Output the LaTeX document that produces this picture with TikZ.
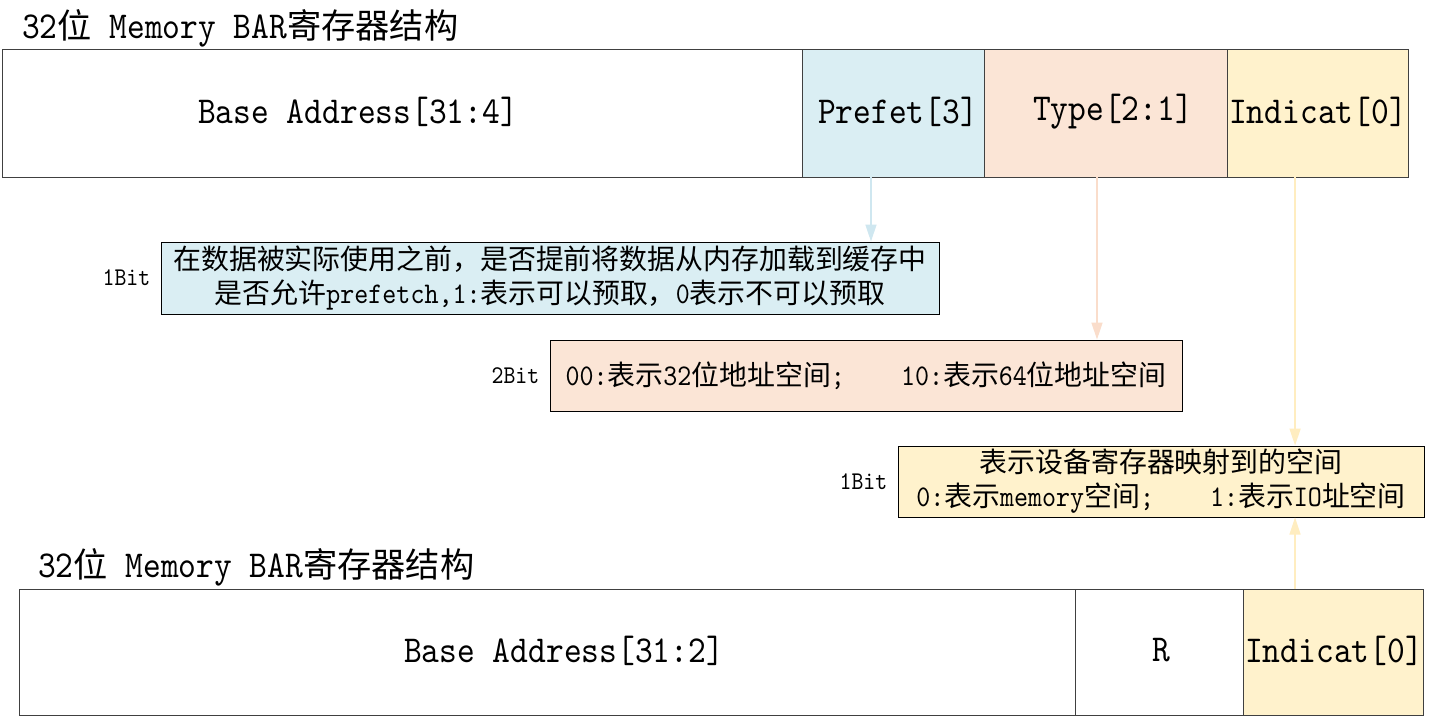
\documentclass[tikz,border=0pt]{standalone}
\usepackage{fontspec}
\setmainfont[FakeStretch=0.89]{lmmono10-regular.otf}
\newfontfamily\cjkA[Scale=0.9]{Noto Sans CJK SC}
\newfontfamily\cjkB[Scale=0.93]{Noto Sans CJK SC}
\newcommand\za[1]{{\cjkA #1}}
\newcommand\zb[1]{{\cjkB #1}}
\usetikzlibrary{arrows.meta,calc}
\definecolor{blueF}{HTML}{DAEEF3}
\definecolor{orangeF}{HTML}{FBE5D6}
\definecolor{yellowF}{HTML}{FFF2CC}
\definecolor{blueA}{HTML}{CFE7F0}
\definecolor{orangeA}{HTML}{FADDCB}
\definecolor{yellowA}{HTML}{FFEDC0}
\definecolor{regline}{HTML}{404040}
\begin{document}
\begin{tikzpicture}[x=1pt,y=-1pt,
  reg/.style={draw=regline, line width=1pt, inner sep=0pt, outer sep=0pt, minimum height=127pt},
  big/.style={font=\fontsize{38pt}{40pt}\selectfont, inner sep=0pt},
  desc/.style={draw=black, line width=1pt, align=center, inner sep=0pt, minimum height=72pt,
    font=\fontsize{30pt}{34pt}\selectfont},
  bitlbl/.style={font=\fontsize{25.5pt}{25.5pt}\selectfont, inner sep=0pt, anchor=east, xshift=-10pt},
  arr/.style={line width=1.5pt, -{Triangle[length=17pt,width=11pt]}}]
\useasboundingbox (0,0) rectangle (1445,717);
\fill[white] (0,0) rectangle (1445,717);

% titles
\node[big, anchor=west] (t1) at (22,28) {32\za{位} Memory BAR\za{寄存器结构}};
\node[big, anchor=west] (t2) at (38,567) {32\za{位} Memory BAR\za{寄存器结构}};

% top register
\node[reg, minimum width=800pt] (base1) at (402,113.5) {};
\node[reg, fill=blueF, minimum width=182pt] (pre) at (893,113.5) {};
\node[reg, fill=orangeF, minimum width=243pt] (type) at (1105.5,113.5) {};
\node[reg, fill=yellowF, minimum width=181pt] (ind1) at (1317.5,113.5) {};
\node[big] (base1t) at (358,112) {Base Address[31:4]};
\node[big] (pret) at (898,112) {Prefet[3]};
\node[big] (typet) at (1113,112) {Type[2:1]};
\node[big] (ind1t) at (1318,112) {Indicat[0]};

% bottom register
\node[reg, minimum width=1056pt, minimum height=126pt] (base2) at (547,652) {};
\node[reg, minimum width=168pt, minimum height=126pt] (r) at (1159,652) {};
\node[reg, fill=yellowF, minimum width=180pt, minimum height=126pt] (ind2) at (1333,652) {};
\node[big] (base2t) at (564,651) {Base Address[31:2]};
\node[big] (rt) at (1161,650) {R};
\node[big] (ind2t) at (1334,651) {Indicat[0]};

% descriptions
\node[desc, fill=blueF, minimum width=778pt] (bd) at (550,278)
  {\zb{在数据被实际使用之前，是否提前将数据从内存加载到缓存中}\\
   \zb{是否允许}prefetch,1:\zb{表示可以预取，}0\zb{表示不可以预取}};
\node[desc, fill=orangeF, minimum width=632pt, minimum height=71pt] (od) at (866,375.5)
  {00:\zb{表示}32\zb{位地址空间};~~~~10:\zb{表示}64\zb{位地址空间}};
\node[desc, fill=yellowF, minimum width=526pt, minimum height=71pt] (yd) at (1161,481.5)
  {\zb{表示设备寄存器映射到的空间}\\
   0:\zb{表示}memory\zb{空间};~~~~1:\zb{表示}IO\zb{址空间}};

\node[bitlbl] (b1) at (bd.west) {1Bit};
\node[bitlbl] (b2) at (od.west) {2Bit};
\node[bitlbl] (b3) at (yd.west) {1Bit};

% arrows
\coordinate (a1) at ($(pre.south west)!0.379!(pre.south east)$);
\coordinate (a2) at ($(type.south west)!0.465!(type.south east)$);
\coordinate (a3) at ($(ind1.south west)!0.376!(ind1.south east)$);
\coordinate (a4) at ($(ind2.north west)!0.289!(ind2.north east)$);
\draw[arr, blueA] (a1) -- (a1 |- bd.north);
\draw[arr, orangeA] (a2) -- (a2 |- od.north);
\draw[arr, yellowA] (a3) -- (a3 |- yd.north);
\draw[arr, yellowA] (a4) -- (a4 |- yd.south);
\end{tikzpicture}
\end{document}
